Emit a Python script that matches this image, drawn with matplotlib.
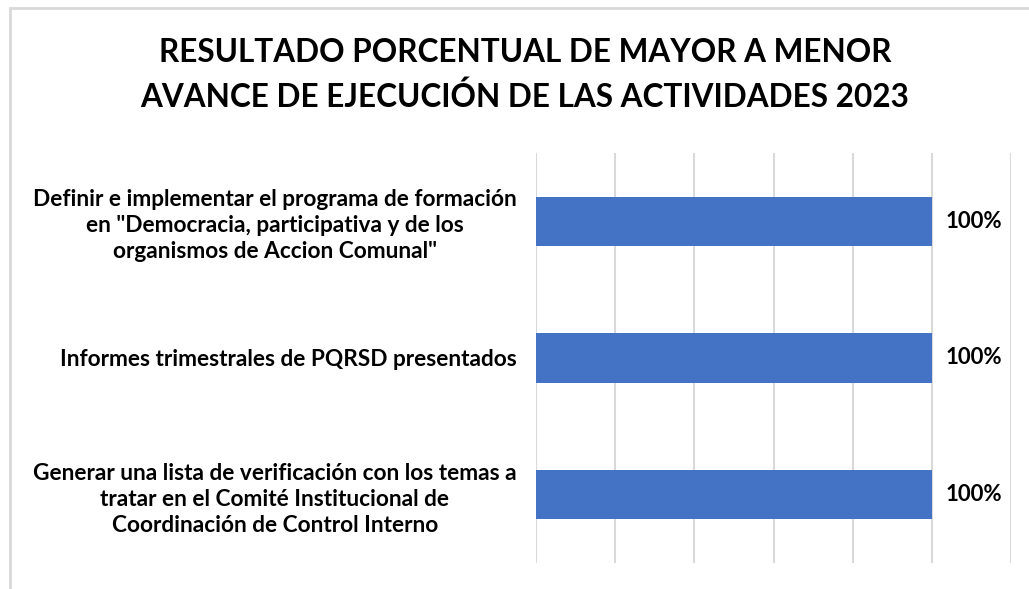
import matplotlib.pyplot as plt
from matplotlib.patches import Rectangle

plt.rcParams['font.family'] = ['Lato', 'DejaVu Sans']

title = "RESULTADO PORCENTUAL DE MAYOR A MENOR\nAVANCE DE EJECUCIÓN DE LAS ACTIVIDADES 2023"
actividades = [
    'Definir e implementar el programa de formación\nen "Democracia, participativa y de los\norganismos de Accion Comunal"',
    'Informes trimestrales de PQRSD presentados',
    'Generar una lista de verificación con los temas a\ntratar en el Comité Institucional de\nCoordinación de Control Interno',
]
avance = [1.0, 1.0, 1.0]

fig = plt.figure(figsize=(10.29, 5.89), dpi=100)
# light grey frame along the top and left edges
fig.patches.append(Rectangle((10 / 1029, -0.1), 1.2, 1.1 - 8 / 589, transform=fig.transFigure,
                             fill=False, edgecolor='#d9d9d9', linewidth=2))

ax = fig.add_axes([536 / 1029, 26 / 589, 475 / 1029, 410 / 589])
pos = list(range(len(actividades)))
ax.barh(pos, avance, height=0.36, color='#4472c4', zorder=2)
ax.set_ylim(len(actividades) - 0.5, -0.5)
ax.set_xlim(0, 1.2)
ax.set_xticks([0, 0.2, 0.4, 0.6, 0.8, 1.0, 1.2])
ax.xaxis.grid(True, color='#d9d9d9', linewidth=1.5, zorder=0)
ax.tick_params(axis='both', length=0, labelbottom=False)
ax.set_yticks(pos)
ax.set_yticklabels(actividades, fontsize=16.3, fontweight='bold', multialignment='center',
                   linespacing=1.3)
ax.tick_params(axis='y', pad=14)
for s in ax.spines.values():
    s.set_visible(False)

for y, v in zip(pos, avance):
    ax.annotate(f'{v:.0%}', (v, y), xytext=(10, 0), textcoords='offset points',
                va='center', ha='left', fontsize=16, fontweight='bold')

fig.text(525 / 1029, 1 - 75 / 589, title, ha='center', va='center', fontsize=22.7,
         fontweight='bold', linespacing=1.55)

fig.savefig('out.png', dpi=100)
